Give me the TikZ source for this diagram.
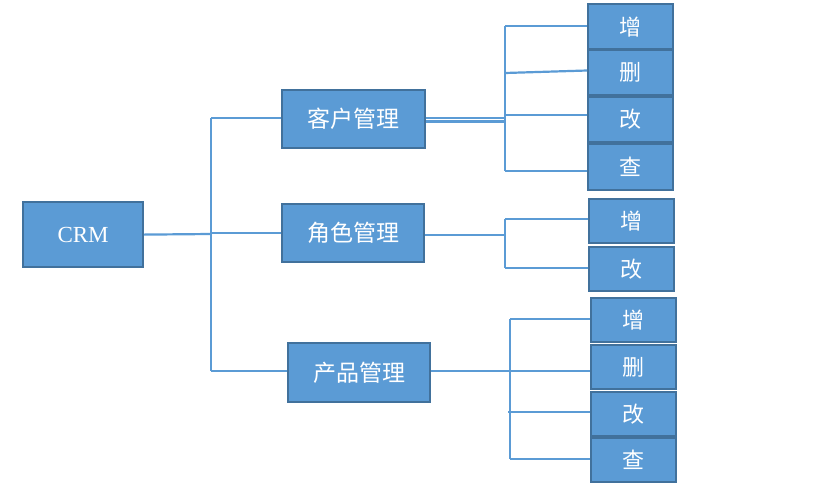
\documentclass[tikz,border=0pt]{standalone}
\usepackage{fontspec}
\setmainfont{Liberation Serif}
\newfontfamily\cjk{Noto Sans CJK SC}
\definecolor{boxfill}{HTML}{5B9BD5}
\definecolor{boxline}{HTML}{41719C}
\definecolor{conn}{HTML}{5B9BD5}
\begin{document}
\begin{tikzpicture}[x=1pt,y=-1pt,
  box/.style={draw=boxline,fill=boxfill,line width=2.2pt,text=white,inner sep=0pt,anchor=north west},
  mgr/.style={box,font=\cjk\fontsize{23}{23}\selectfont},
  leaf/.style={box,font=\cjk\fontsize{22}{22}\selectfont,minimum width=85pt,minimum height=44pt},
  wire/.style={draw=conn,line width=2.2pt}]
\useasboundingbox (0,0) rectangle (832,485);
% root
\node[box,font=\fontsize{23}{23}\selectfont,minimum width=120pt,minimum height=65pt] (crm) at (22,201) {CRM};
% managers
\node[mgr,minimum width=143pt,minimum height=58pt] (kh) at (281,89) {客户管理};
\node[mgr,minimum width=142pt,minimum height=58pt] (js) at (281,203) {角色管理};
\node[mgr,minimum width=142pt,minimum height=59pt] (cp) at (287,342) {产品管理};
% leaves group 1
\node[leaf,minimum height=45pt] (a1) at (587,3) {增};
\node[leaf,minimum height=45pt] (a2) at (587,49) {删};
\node[leaf,minimum height=45pt] (a3) at (587,96) {改};
\node[leaf,minimum height=46pt] (a4) at (587,143) {查};
% leaves group 2
\node[leaf] (b1) at (588,198) {增};
\node[leaf] (b2) at (588,246) {改};
% leaves group 3
\node[leaf] (c1) at (590,297) {增};
\node[leaf] (c2) at (590,344) {删};
\node[leaf] (c3) at (590,391) {改};
\node[leaf] (c4) at (590,437) {查};
% root connectors
\coordinate (r0) at (211,118);
\coordinate (r1) at (211,371);
\draw[wire] (crm.east) -- (211,234);
\draw[wire] (r0) -- (r1);
\draw[wire] (r0) -- (kh.west |- r0);
\draw[wire] (211,233) -- (js.west |- 0,233);
\draw[wire] (r1) -- (cp.west |- r1);
% group 1 connectors
\coordinate (g1t) at (505,26);
\coordinate (g1b) at (505,171);
\draw[wire] (kh.east |- 0,118) -- (505,118);
\draw[wire] (kh.east |- 0,121.5) -- (505,121.5);
\draw[wire] (g1t) -- (g1b);
\draw[wire] (g1t) -- (a1.west |- g1t);
\draw[wire] (505,73) -- (a2.west |- 0,70.5);
\draw[wire] (505,115) -- (a3.west |- 0,115);
\draw[wire] (g1b) -- (a4.west |- g1b);
% group 2 connectors
\coordinate (g2t) at (505,219);
\coordinate (g2b) at (505,268);
\draw[wire] (js.east |- 0,235) -- (505,235);
\draw[wire] (g2t) -- (g2b);
\draw[wire] (g2t) -- (b1.west |- g2t);
\draw[wire] (g2b) -- (b2.west |- g2b);
% group 3 connectors
\coordinate (g3t) at (510,319);
\coordinate (g3b) at (510,459);
\draw[wire] (cp.east |- 0,371) -- (c2.west |- 0,371);
\draw[wire] (g3t) -- (g3b);
\draw[wire] (g3t) -- (c1.west |- g3t);
\draw[wire] (508,412) -- (c3.west |- 0,412);
\draw[wire] (g3b) -- (c4.west |- g3b);
\end{tikzpicture}
\end{document}
